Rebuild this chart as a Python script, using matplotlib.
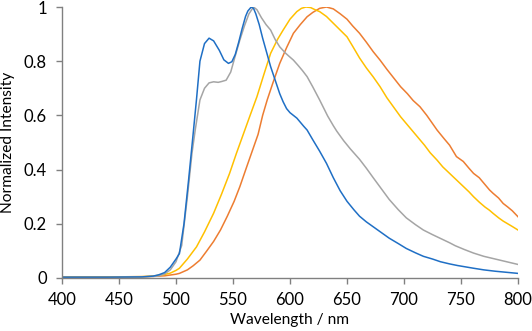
import matplotlib
matplotlib.use("Agg")
import matplotlib.pyplot as plt

# Blue series
blue_x = [400, 440, 470, 480, 485, 490, 495, 500, 503, 507, 511, 515, 518, 521, 525, 529, 533, 538,
          542, 546, 549, 552, 555, 558, 561, 563, 566, 568, 570, 573, 576, 580, 583, 587, 591, 594,
          597, 600, 603, 606, 609, 612, 615, 620, 626, 632, 638, 644, 650, 656, 661, 667, 673, 680,
          687, 695, 702, 710, 717, 725, 732, 740, 747, 754, 761, 770, 780, 790, 800]
blue_y = [0.003, 0.003, 0.004, 0.007, 0.012, 0.02, 0.04, 0.07, 0.09, 0.2, 0.36, 0.53, 0.66, 0.8, 0.865,
          0.885, 0.875, 0.84, 0.805, 0.792, 0.798, 0.825, 0.87, 0.92, 0.965, 0.985, 1.0, 0.995, 0.975,
          0.935, 0.885, 0.825, 0.78, 0.73, 0.68, 0.65, 0.625, 0.61, 0.6, 0.59, 0.575, 0.56, 0.546,
          0.51, 0.468, 0.423, 0.37, 0.322, 0.283, 0.252, 0.228, 0.207, 0.189, 0.168, 0.147, 0.127,
          0.109, 0.093, 0.08, 0.07, 0.06, 0.052, 0.046, 0.041, 0.036, 0.03, 0.025, 0.021, 0.017]

# Gray series
gray_x = [400, 440, 470, 480, 485, 490, 495, 500, 505, 510, 514, 517, 521, 525, 529, 533, 537, 540,
          544, 548, 552, 556, 560, 564, 568, 571, 575, 579, 583, 587, 591, 596, 600, 603, 607, 611,
          615, 620, 626, 633, 638, 641, 647, 653, 661, 667, 673, 680, 687, 695, 702, 710, 717, 725,
          732, 740, 745, 753, 761, 770, 780, 790, 800]
gray_y = [0.003, 0.003, 0.004, 0.006, 0.008, 0.015, 0.03, 0.06, 0.12, 0.3, 0.46, 0.55, 0.657, 0.7,
          0.72, 0.724, 0.722, 0.725, 0.73, 0.76, 0.82, 0.878, 0.93, 0.975, 1.0, 0.99, 0.96, 0.935,
          0.915, 0.88, 0.853, 0.83, 0.815, 0.804, 0.785, 0.765, 0.743, 0.705, 0.657, 0.598, 0.562,
          0.542, 0.507, 0.476, 0.438, 0.405, 0.37, 0.33, 0.29, 0.252, 0.222, 0.197, 0.177, 0.16,
          0.146, 0.13, 0.119, 0.105, 0.092, 0.08, 0.07, 0.06, 0.05]

# Yellow series
yellow_x = [400, 440, 470, 480, 490, 495, 500, 503, 510, 518, 525, 533, 540, 547, 553, 559, 565, 571,
            577, 583, 589, 594, 600, 606, 610, 614, 618, 622, 626, 632, 638, 644, 650, 655, 661, 667,
            673, 679, 685, 691, 697, 703, 708, 713, 718, 723, 729, 734, 740, 746, 752, 757, 761, 766,
            771, 775, 778, 783, 787, 791, 795, 800]
yellow_y = [0.004, 0.004, 0.005, 0.007, 0.013, 0.018, 0.028, 0.036, 0.07, 0.115, 0.17, 0.239, 0.31,
            0.386, 0.46, 0.53, 0.6, 0.669, 0.75, 0.829, 0.88, 0.915, 0.955, 0.983, 0.995, 1.0, 0.998,
            0.99, 0.983, 0.965, 0.94, 0.915, 0.89, 0.855, 0.812, 0.775, 0.742, 0.706, 0.665, 0.63,
            0.595, 0.565, 0.54, 0.515, 0.49, 0.462, 0.435, 0.41, 0.386, 0.362, 0.338, 0.318, 0.3,
            0.28, 0.262, 0.25, 0.239, 0.222, 0.21, 0.2, 0.19, 0.177]

# Orange series
orange_x = [400, 440, 470, 480, 490, 495, 500, 503, 510, 515, 521, 527, 533, 539, 545, 551, 556,
            562, 567, 572, 576, 580, 585, 591, 597, 603, 609, 615, 620, 626, 632, 638, 644, 650, 655,
            661, 667, 673, 679, 685, 691, 697, 703, 708, 714, 720, 725, 729, 735, 740, 746, 752, 757,
            761, 766, 771, 775, 778, 783, 787, 791, 795, 800]
orange_y = [0.004, 0.004, 0.005, 0.006, 0.008, 0.011, 0.014, 0.017, 0.03, 0.045, 0.066, 0.1, 0.135,
            0.177, 0.228, 0.283, 0.337, 0.41, 0.47, 0.53, 0.6, 0.657, 0.72, 0.792, 0.85, 0.903, 0.935,
            0.964, 0.98, 0.995, 1.0, 0.993, 0.975, 0.955, 0.93, 0.903, 0.87, 0.835, 0.804, 0.77, 0.738,
            0.706, 0.68, 0.655, 0.632, 0.6, 0.57, 0.546, 0.515, 0.49, 0.448, 0.43, 0.405, 0.386, 0.37,
            0.345, 0.325, 0.313, 0.295, 0.275, 0.262, 0.248, 0.226]

x_ticks = [400, 450, 500, 550, 600, 650, 700, 750, 800]
y_ticks = [0, 0.2, 0.4, 0.6, 0.8, 1.0]
y_tick_labels = ["0", "0.2", "0.4", "0.6", "0.8", "1"]

plt.rcParams['font.family'] = ['Lato', 'DejaVu Sans']

fig = plt.figure(figsize=(5.32, 3.31), dpi=100)
ax = fig.add_axes([62/532, 53/331, 456/532, 271/331])

lw = 1.1
ax.plot(orange_x, orange_y, color="#ED7D31", lw=lw)
ax.plot(yellow_x, yellow_y, color="#FFC000", lw=lw)
ax.plot(gray_x, gray_y, color="#A5A5A5", lw=lw)
ax.plot(blue_x, blue_y, color="#1F6FC5", lw=lw)

ax.set_xlim(400, 800)
ax.set_ylim(0, 1)
ax.set_xticks(x_ticks)
ax.set_yticks(y_ticks)
ax.set_yticklabels(y_tick_labels)

for s in ["top", "right"]:
    ax.spines[s].set_visible(False)
for s in ["left", "bottom"]:
    ax.spines[s].set_color("#808080")
    ax.spines[s].set_linewidth(1.0)
ax.tick_params(axis="both", direction="out", length=4, width=1.0, color="#808080",
               labelsize=12, labelcolor="black")
ax.tick_params(axis="y", pad=7)
ax.tick_params(axis="x", pad=6)

ax.set_xlabel("Wavelength / nm", fontsize=11.2, labelpad=4)
ax.set_ylabel("Normalized Intensity", fontsize=11.2, labelpad=6)

fig.savefig("out.png", dpi=100)
